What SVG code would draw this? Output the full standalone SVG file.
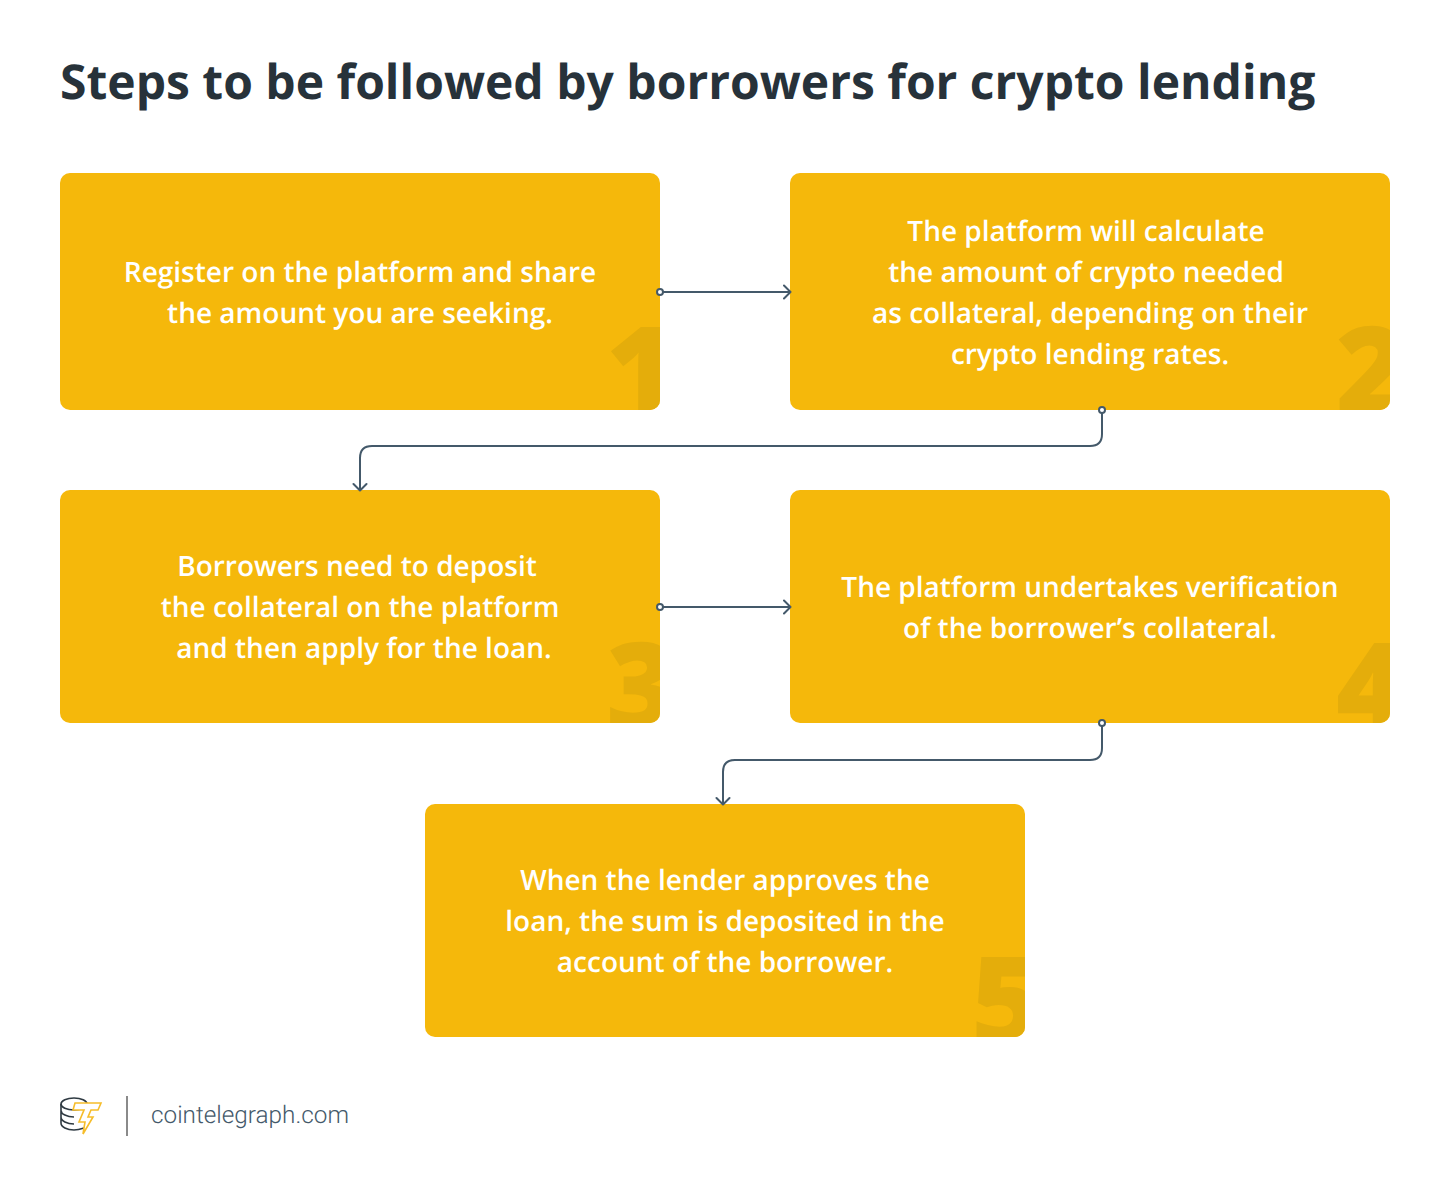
<svg xmlns="http://www.w3.org/2000/svg" width="1450" height="1196" viewBox="0 0 1450 1196" text-rendering="geometricPrecision">
<style>
.box{fill:#f5b80b}
.t{font-family:"Open Sans","Liberation Sans",sans-serif;font-size:28px;font-weight:600;fill:#fff;text-anchor:middle}
.n{font-family:"Open Sans","Liberation Sans",sans-serif;font-size:122px;font-weight:800;fill:#e4ad0b}
.c{fill:none;stroke:#44596a;stroke-width:2;stroke-linecap:round;stroke-linejoin:round}
.d{fill:#fff;stroke:#44596a;stroke-width:2}
</style>
<defs>
<clipPath id="c1"><rect x="60" y="173" width="600" height="237" rx="10"/></clipPath>
<clipPath id="c2"><rect x="790" y="173" width="600" height="237" rx="10"/></clipPath>
<clipPath id="c3"><rect x="60" y="490" width="600" height="233" rx="10"/></clipPath>
<clipPath id="c4"><rect x="790" y="490" width="600" height="233" rx="10"/></clipPath>
<clipPath id="c5"><rect x="425" y="804" width="600" height="233" rx="10"/></clipPath>
</defs>
<rect width="1450" height="1196" fill="#fff"/>
<text id="title" x="60" y="99" font-family="'Open Sans','Liberation Sans',sans-serif" font-size="48" font-weight="700" fill="#27323a">Steps to be followed by borrowers for crypto lending</text>
<g id="node1"><rect class="box" x="60" y="173" width="600" height="237" rx="10"/>
<g clip-path="url(#c1)"><text class="n" x="606" y="414">1</text></g>
<text class="t" x="360" y="282">Register on the platform and share</text><text class="t" x="360" y="323">the amount you are seeking.</text></g>
<g id="node2"><rect class="box" x="790" y="173" width="600" height="237" rx="10"/>
<g clip-path="url(#c2)"><text class="n" x="1336" y="414">2</text></g>
<text class="t" x="1086" y="241">The platform will calculate</text><text class="t" x="1086" y="282">the amount of crypto needed</text><text class="t" x="1090" y="323">as collateral, depending on their</text><text class="t" x="1090" y="364">crypto lending rates.</text></g>
<g id="node3"><rect class="box" x="60" y="490" width="600" height="233" rx="10"/>
<g clip-path="url(#c3)"><text class="n" x="606" y="730">3</text></g>
<text class="t" x="357" y="576">Borrowers need to deposit</text><text class="t" x="360" y="617">the collateral on the platform</text><text class="t" x="364" y="658">and then apply for the loan.</text></g>
<g id="node4"><rect class="box" x="790" y="490" width="600" height="233" rx="10"/>
<g clip-path="url(#c4)"><text class="n" x="1336" y="730">4</text></g>
<text class="t" x="1090" y="597">The platform undertakes verification</text><text class="t" x="1090" y="638">of the borrower’s collateral.</text></g>
<g id="node5"><rect class="box" x="425" y="804" width="600" height="233" rx="10"/>
<g clip-path="url(#c5)"><text class="n" x="971" y="1044">5</text></g>
<text class="t" x="725" y="890">When the lender approves the</text><text class="t" x="725" y="931">loan, the sum is deposited in the</text><text class="t" x="725" y="972">account of the borrower.</text></g>
<g id="connectors">
<path class="c" d="M660 292H790M784 285.500L790.500 292L784 298.500"/><circle class="d" cx="660" cy="292" r="3"/>
<path class="c" d="M1102 410V434Q1102 446 1090 446H372Q360 446 360 458V490M353.500 484L360 490.500L366.500 484"/><circle class="d" cx="1102" cy="410" r="3"/>
<path class="c" d="M660 607H790M784 600.500L790.500 607L784 613.500"/><circle class="d" cx="660" cy="607" r="3"/>
<path class="c" d="M1102 723V748Q1102 760 1090 760H735Q723 760 723 772V804M716.500 798L723 804.500L729.500 798"/><circle class="d" cx="1102" cy="723" r="3"/>
</g>
<g id="logo">
<g fill="none" stroke="#2f3a42" stroke-width="1.600">
<ellipse cx="74" cy="1104" rx="13" ry="6"/>
<path d="M61 1104V1123C61 1127 67 1130 74 1130C78 1130 81 1129 84 1128M61 1110.500C61 1114 67 1117 74 1117M61 1117C61 1121 67 1124 74 1124"/>
</g>
<path d="M75 1103H101L98 1110H91L88 1117H93L83 1134L85 1122H79L84 1110H73Z" fill="#fff" stroke="#f6bd2a" stroke-width="1.600" stroke-linejoin="miter"/>
<rect x="126" y="1096" width="2" height="40" fill="#8a8a8a"/>
<text x="151" y="1123" font-family="Roboto,'Liberation Sans',sans-serif" font-size="24.300" font-weight="300" fill="#44596a">cointelegraph.com</text>
</g>
</svg>
